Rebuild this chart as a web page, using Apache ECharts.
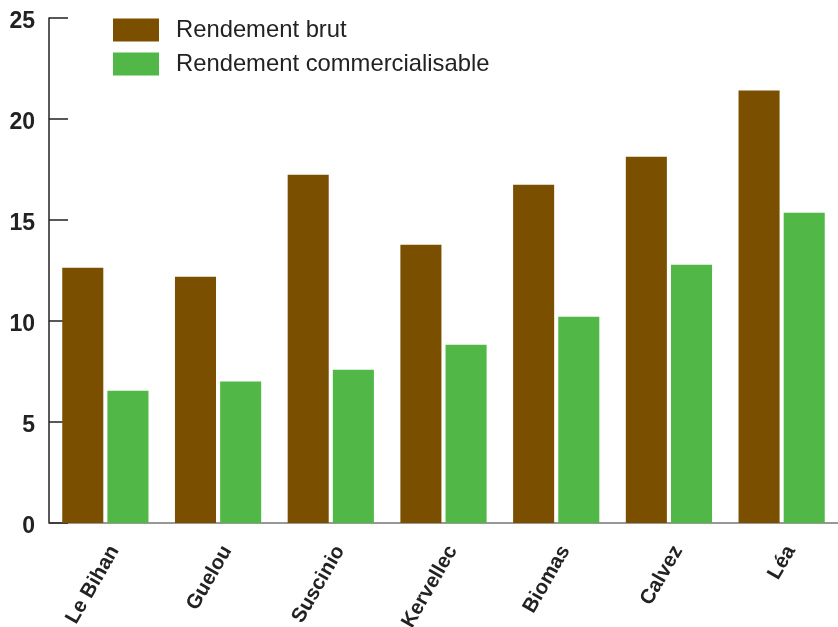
<!DOCTYPE html>
<html>
<head>
<meta charset="utf-8">
<script src="https://cdn.jsdelivr.net/npm/echarts@6/dist/echarts.min.js"></script>
<style>html,body{margin:0;padding:0;background:#fff;}#c{width:838px;height:627px;}</style>
</head>
<body>
<div id="c"></div>
<script>
const categories = ['Le Bihan', 'Guelou', 'Suscinio', 'Kervellec', 'Biomas', 'Calvez', 'Léa'];
const rendementBrut = [12.64, 12.19, 17.24, 13.78, 16.75, 18.13, 21.41];
const rendementCommercialisable = [6.55, 7.0, 7.59, 8.83, 10.21, 12.79, 15.36];
const seriesNames = ['Rendement brut', 'Rendement commercialisable'];

const chart = echarts.init(document.getElementById('c'));
chart.setOption({
  animation: false,
  backgroundColor: '#fff',
  textStyle: { fontFamily: '"Liberation Sans", Arial, sans-serif' },
  grid: { left: 49, right: 0, top: 18, bottom: 104, containLabel: false, outerBoundsMode: 'none' },
  legend: {
    orient: 'vertical',
    left: 108, top: 13,
    itemWidth: 46, itemHeight: 23, itemGap: 10,
    icon: 'rect',
    textStyle: { fontSize: 23.8, color: '#222', fontFamily: '"Liberation Sans", Arial, sans-serif', padding: [0, 0, 0, 12] },
    data: seriesNames
  },
  xAxis: {
    type: 'category',
    data: categories,
    axisLine: { lineStyle: { color: '#777', width: 1.5 } },
    axisTick: { inside: true, length: 12, lineStyle: { color: '#444', width: 1.5 } },
    axisLabel: {
      rotate: 60, fontSize: 20.5, fontWeight: 'bold', color: '#222', margin: 19, interval: 0,
      verticalAlign: 'top',
      fontFamily: '"Liberation Sans", Arial, sans-serif'
    },
    splitLine: { show: false }
  },
  yAxis: {
    type: 'value',
    min: 0, max: 25, interval: 5,
    axisLine: { show: true, lineStyle: { color: '#222', width: 1.5 } },
    axisTick: { show: true, inside: true, length: 19, lineStyle: { color: '#222', width: 1.5 } },
    axisLabel: { fontSize: 23, fontWeight: 'bold', color: '#222', margin: 14,
      verticalAlign: 'top', lineHeight: 7,
      fontFamily: '"Liberation Sans", Arial, sans-serif' },
    splitLine: { show: false }
  },
  series: [
    { name: seriesNames[0], type: 'bar', data: rendementBrut, itemStyle: { color: '#7a5000' }, barGap: '10%', barCategoryGap: '23.5%' },
    { name: seriesNames[1], type: 'bar', data: rendementCommercialisable, itemStyle: { color: '#51b848' } }
  ]
});
</script>
</body>
</html>
